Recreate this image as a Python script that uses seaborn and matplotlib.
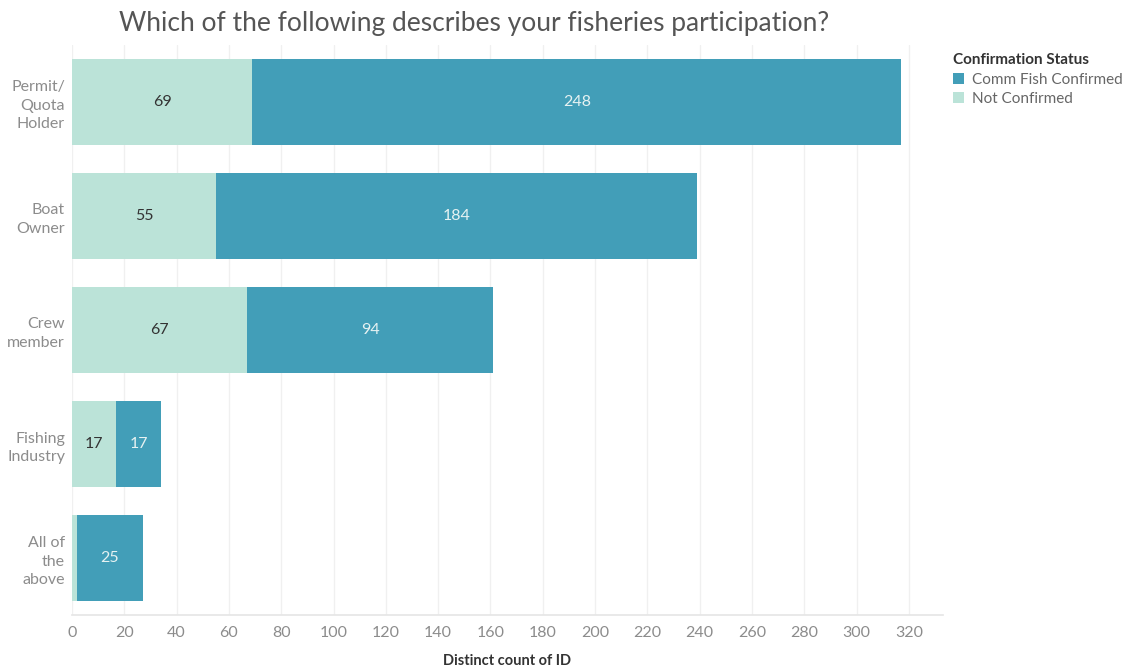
import matplotlib
matplotlib.use("Agg")
import matplotlib.pyplot as plt
import seaborn as sns
import pandas as pd
from matplotlib.patches import Patch

categories = ["Permit/\nQuota\nHolder", "Boat\nOwner", "Crew\nmember", "Fishing\nIndustry", "All of\nthe\nabove"]
not_confirmed = [69, 55, 67, 17, 2]
confirmed = [248, 184, 94, 17, 25]
show_nc_label = [True, True, True, True, False]
xticks = list(range(0, 321, 20))

c_conf = "#429EB8"
c_nc = "#BBE3D8"

sns.set_theme(style="white")
plt.rcParams['font.family'] = ['Lato', 'DejaVu Sans']

df = pd.DataFrame({
    "cat": categories,
    "nc": not_confirmed,
    "conf": confirmed,
})
df["total"] = df["nc"] + df["conf"]

fig = plt.figure(figsize=(11.27, 6.68), dpi=100)
ax = fig.add_axes([0.0639, 0.079, 0.7728, 0.854])

sns.barplot(data=df, y="cat", x="total", color=c_conf, orient="h", width=0.75,
            saturation=1, ax=ax, zorder=2, linewidth=0)
sns.barplot(data=df, y="cat", x="nc", color=c_nc, orient="h", width=0.75,
            saturation=1, ax=ax, zorder=3, linewidth=0)

for i, (n, c, show) in enumerate(zip(not_confirmed, confirmed, show_nc_label)):
    if show:
        ax.text(n / 2, i, str(n), ha="center", va="center", fontsize=11.5, color="#333333", zorder=5)
    ax.text(n + c / 2, i, str(c), ha="center", va="center", fontsize=11.5, color="#E6F2F2", zorder=5)

ax.set_xlim(0, 333)
ax.set_xticks(xticks)
ax.set_xticklabels([str(t) for t in xticks], color="#8c8c8c", fontsize=11.5)
ax.tick_params(axis="x", length=0, pad=8)
ax.tick_params(axis="y", length=0, pad=5)
for lbl in ax.get_yticklabels():
    lbl.set_color("#8c8c8c")
    lbl.set_fontsize(11.5)
    lbl.set_horizontalalignment("right")
    lbl.set_multialignment("right")
    lbl.set_linespacing(1.4)
ax.set_ylabel("")
ax.set_xlabel("Distinct count of ID", fontsize=10.5, fontweight="bold", color="#333333", labelpad=10)

ax.grid(axis="x", color="#f0f0f0", linewidth=1, zorder=0)
ax.set_axisbelow(True)
for s in ["top", "right", "left"]:
    ax.spines[s].set_visible(False)
ax.spines["bottom"].set_color("#e6e6e6")

fig.text(0.421, 0.965, "Which of the following describes your fisheries participation?",
         ha="center", va="center", fontsize=19, color="#555555")

handles = [Patch(facecolor=c_conf, edgecolor="none", label="Comm Fish Confirmed"),
           Patch(facecolor=c_nc, edgecolor="none", label="Not Confirmed")]
leg = fig.legend(handles=handles, title="Confirmation Status", loc="upper left",
                 bbox_to_anchor=(0.846, 0.92), frameon=False, fontsize=11,
                 title_fontsize=11, handlelength=0.7, handleheight=0.7,
                 handletextpad=0.5, labelspacing=0.35, borderaxespad=0, borderpad=0)
leg.get_title().set_fontweight("bold")
leg.get_title().set_color("#333333")
leg._legend_box.align = "left"
for t in leg.get_texts():
    t.set_color("#666666")

fig.savefig("out.png", dpi=100)
